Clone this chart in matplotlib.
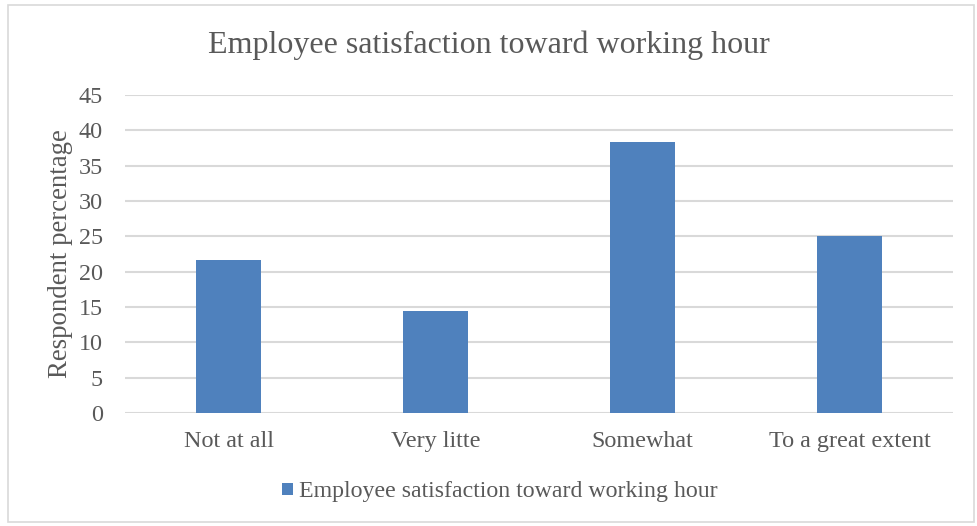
import matplotlib.pyplot as plt
from matplotlib.patches import Rectangle

categories = ["Not at all", "Very litte", "Somewhat", "To a great extent"]
values = [21.7, 14.5, 38.4, 25.1]
yticks = [0, 5, 10, 15, 20, 25, 30, 35, 40, 45]
series_name = "Employee satisfaction toward working hour"
title = "Employee satisfaction toward working hour"

plt.rcParams['font.family'] = ['Liberation Serif', 'DejaVu Serif']
text_color = "#595959"
bar_color = "#4F81BD"
grid_color = "#D9D9D9"

fig = plt.figure(figsize=(9.77, 5.26), dpi=100)
ax = fig.add_axes([125 / 977, 1 - 413 / 526, (953 - 125) / 977, (413 - 95) / 526])

x = range(len(categories))
ax.bar(x, values, width=0.314, color=bar_color, label=series_name, zorder=3)
ax.set_xlim(-0.5, len(categories) - 0.5)
ax.set_ylim(0, 45)
ax.set_yticks(yticks)
ax.set_xticks(list(x))
ax.set_xticklabels(categories)
ax.yaxis.grid(True, color=grid_color, linewidth=1.5, zorder=0)
for s in ax.spines.values():
    s.set_visible(False)
ax.tick_params(axis='both', length=0, colors=text_color, labelsize=17.4)
ax.tick_params(axis='x', pad=13)
ax.tick_params(axis='y', pad=16)
ax.set_ylabel("Respondent percentage", fontsize=19.4, color=text_color, labelpad=4)

fig.text(0.5, 1 - 45 / 526, title, ha='center', va='center', fontsize=23, color=text_color)
fig.legend(loc='center', bbox_to_anchor=(500 / 977, 1 - 492 / 526), frameon=False,
           fontsize=17.2, labelcolor=text_color, handlelength=0.45, handleheight=0.45,
           handletextpad=0.25)

fig.patches.append(Rectangle((8 / 977, 4 / 526), 966 / 977, 517 / 526,
                             transform=fig.transFigure, fill=False,
                             edgecolor="#D9D9D9", linewidth=1.2))

fig.savefig("out.png", dpi=100)
